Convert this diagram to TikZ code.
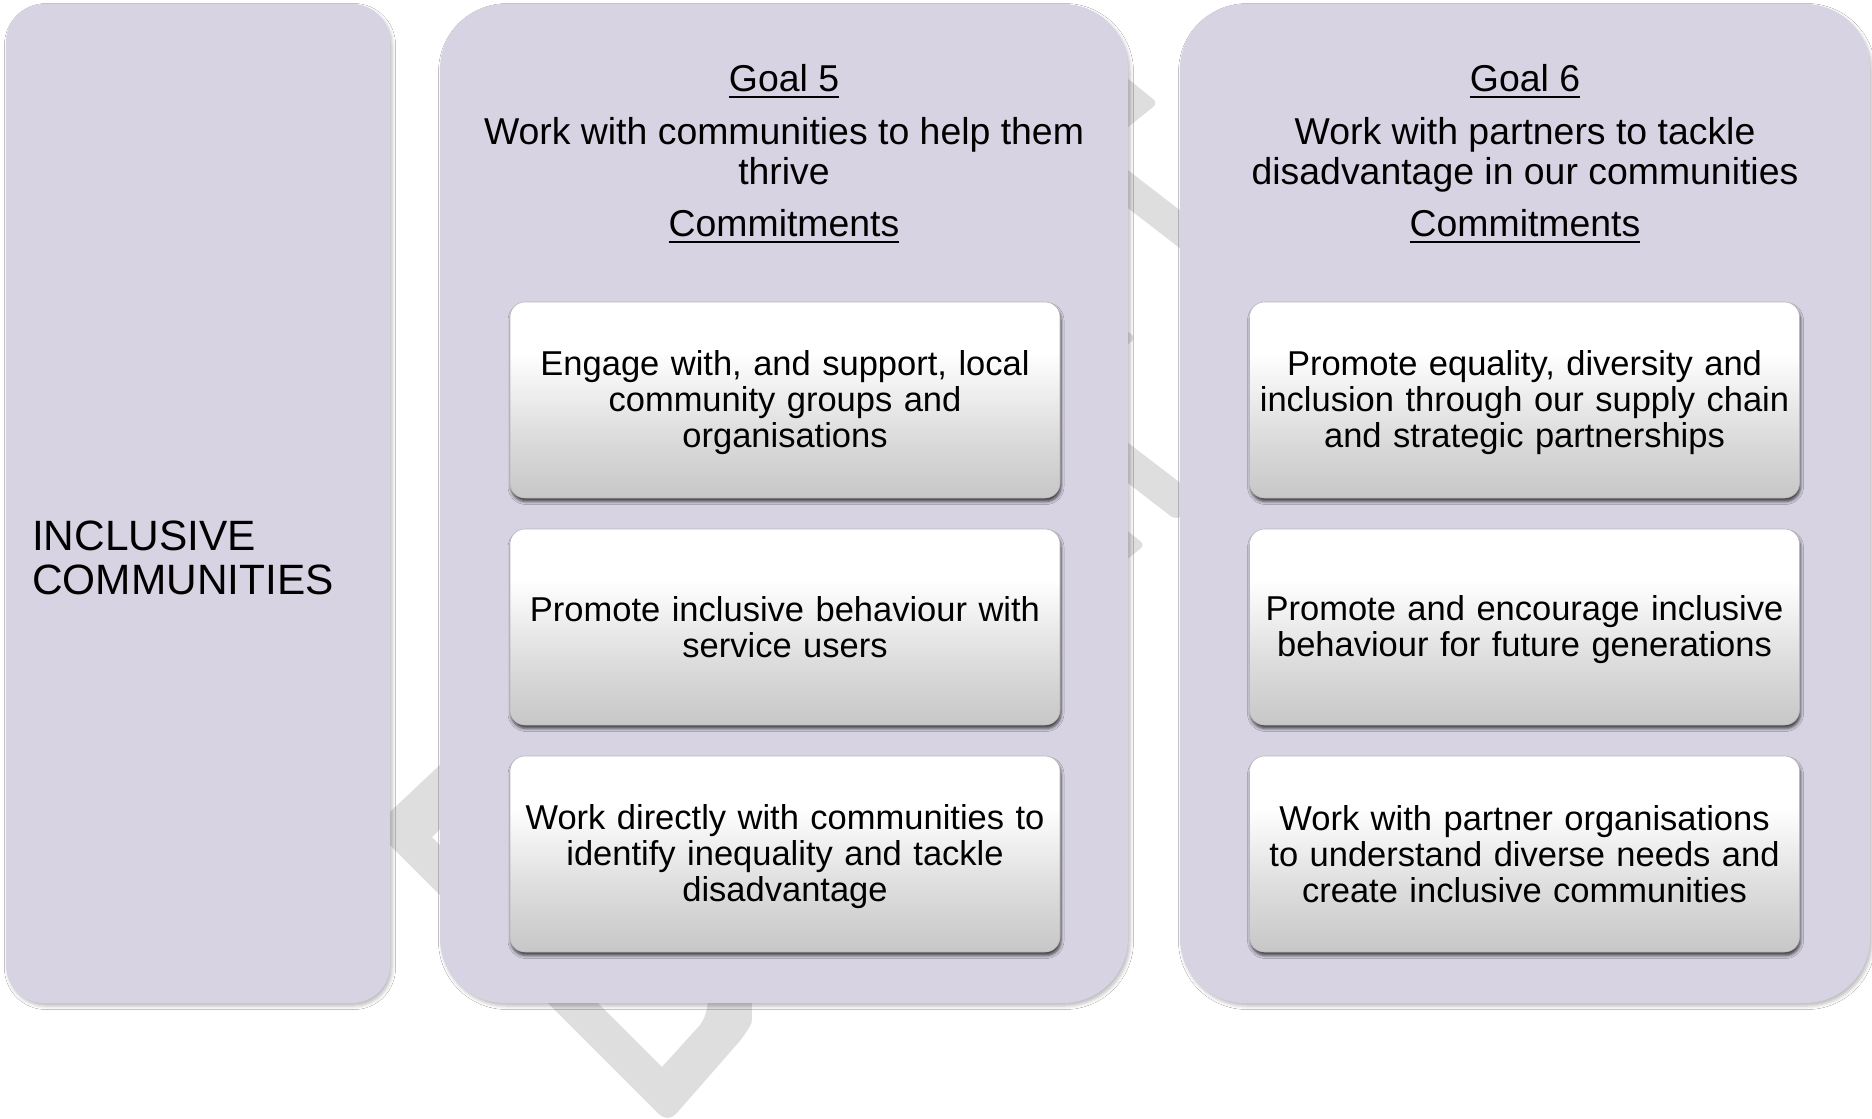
\documentclass[tikz,border=0pt]{standalone}
\usepackage{fontspec}
\setmainfont{Liberation Sans}
\usetikzlibrary{shadows.blur}
\definecolor{panelc}{RGB}{215,211,227}
\definecolor{zig}{RGB}{222,222,222}
\pgfdeclareverticalshading{boxshade}{100bp}{color(0bp)=(gray!44); color(25bp)=(gray!44); color(42bp)=(gray!26); color(62bp)=(white); color(100bp)=(white)}
\newcommand\hdrfont{\fontsize{37.4pt}{40pt}\selectfont}
\newcommand\boxfont{\fontsize{34.5pt}{36pt}\selectfont}
\newcommand\incfont{\fontsize{42.4pt}{44pt}\selectfont}
\newcommand\myul[1]{\setbox0\hbox{#1}\rlap{\rule[-7pt]{\wd0}{2.5pt}}\box0}
\newcommand\btop{\rule{0pt}{30pt}}
\newcommand\bbot{\rule[-6pt]{0pt}{6pt}}
\begin{document}
\begin{tikzpicture}[x=1pt,y=-1pt,
  panel/.style={rectangle, fill=panelc, draw=none, inner sep=0pt,
    blur shadow={shadow xshift=2pt, shadow yshift=-3pt, shadow blur radius=3.5pt, shadow opacity=26}},
  cbox/.style={rectangle, rounded corners=15pt, draw=gray!55, line width=0.6pt, shading=boxshade,
    blur shadow={shadow xshift=1pt, shadow yshift=-3.5pt, shadow blur radius=3pt, shadow opacity=70},
    minimum width=550pt, minimum height=196pt, text width=540pt, inner sep=2pt, align=center, font=\boxfont},
  hdr/.style={anchor=base, inner sep=0pt, font=\hdrfont}]
\useasboundingbox (0,0) rectangle (1872,1119);
\fill[white] (0,0) rectangle (1872,1119);
% background zigzag pieces
\fill[zig] (480,727) -- (373,828) [rounded corners=12pt] -- (668,1123) -- (746,1034) [sharp corners]
  .. controls (752,1022) and (752,1010) .. (752,995) -- (752,940) -- (708,940) -- (708,995)
  .. controls (708,1010) and (705,1018) .. (700,1025) -- (662,1067) -- (432,837) -- (480,789) -- cycle;
\fill[zig, rounded corners=6pt] (1070,32) -- (1158,103) -- (1070,174) -- cycle;
\fill[zig] (1080,133) -- (1230,249) -- (1230,287) -- (1080,171) -- cycle;
\fill[zig, rounded corners=5pt] (1085,298) -- (1136,338) -- (1085,378) -- cycle;
\fill[zig, rounded corners=8pt] (1080,406) -- (1200,498) -- (1177,521) -- (1080,446) -- cycle;
\fill[zig, rounded corners=5pt] (1080,493) -- (1145,545) -- (1080,597) -- cycle;
% panels
\node[panel, rounded corners=38pt, minimum width=384pt, minimum height=999pt] (pL) at (198,503.5) {};
\node[panel, rounded corners=65pt, minimum width=688pt, minimum height=999pt] (pM) at (784,503.5) {};
\node[panel, rounded corners=65pt, minimum width=690pt, minimum height=999pt] (pR) at (1525,503.5) {};
% left label
\node[anchor=west, align=left, inner sep=0pt, font=\incfont] (inc) at (32,558) {INCLUSIVE\\COMMUNITIES};
% headers
\node[hdr] (g5) at (784,91) {\myul{Goal 5}};
\node[hdr] (g5a) at (784,144) {Work with communities to help them};
\node[hdr] (g5b) at (784,184) {thrive};
\node[hdr] (c5) at (784,236) {\myul{Commitments}};
\node[hdr] (g6) at (1525,91) {\myul{Goal 6}};
\node[hdr] (g6a) at (1525,144) {Work with partners to tackle};
\node[hdr] (g6b) at (1525,184) {disadvantage in our communities};
\node[hdr] (c6) at (1525,236) {\myul{Commitments}};
% commitment boxes
\node[cbox] (m1) at (785,400) {\btop Engage with, and support, local\\community groups and\\organisations\bbot};
\node[cbox] (m2) at (785,627) {\btop Promote inclusive behaviour with\\service users\bbot};
\node[cbox] (m3) at (785,854) {\btop Work directly with communities to\\identify inequality and tackle\\disadvantage\bbot};
\node[cbox] (r1) at (1524.5,400) {\btop Promote equality, diversity and\\inclusion through our supply chain\\and strategic partnerships\bbot};
\node[cbox] (r2) at (1524.5,627) {\btop Promote and encourage inclusive\\behaviour for future generations\bbot};
\node[cbox] (r3) at (1524.5,854) {\btop Work with partner organisations\\to understand diverse needs and\\create inclusive communities\bbot};
\end{tikzpicture}
\end{document}
